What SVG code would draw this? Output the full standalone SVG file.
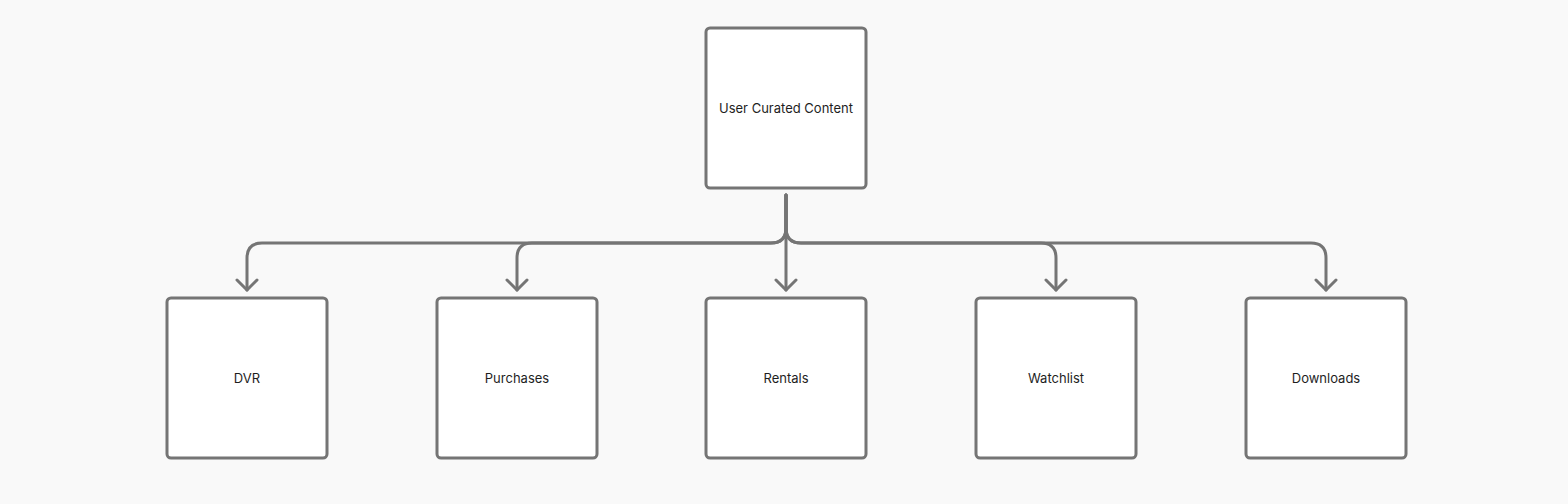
<svg xmlns="http://www.w3.org/2000/svg" width="1568" height="504" viewBox="0 0 1568 504">
<style>
.n{fill:#fff;stroke:#757575;stroke-width:3}
.t{font-family:Inter,"Liberation Sans",sans-serif;font-size:13px;fill:#1e1e1e;text-anchor:middle;dominant-baseline:central}
.c{fill:none;stroke:#757575;stroke-width:3;stroke-linecap:round;stroke-linejoin:round}
</style>
<defs><marker id="a" markerWidth="24" markerHeight="24" refX="12" refY="12" orient="auto" markerUnits="userSpaceOnUse"><path d="M2,2 L12,12 L2,22" fill="none" stroke="#757575" stroke-width="3" stroke-linecap="round" stroke-linejoin="round"/></marker></defs>
<rect width="1568" height="504" fill="#f9f9f9"/>
<g id="connectors">
<path class="c" marker-end="url(#a)" d="M786,195 V228 Q786,243 771,243 H262 Q247,243 247,258 V290"/>
<path class="c" marker-end="url(#a)" d="M786,195 V228 Q786,243 771,243 H532 Q517,243 517,258 V290"/>
<path class="c" marker-end="url(#a)" d="M786,195 V290"/>
<path class="c" marker-end="url(#a)" d="M786,195 V228 Q786,243 801,243 H1041 Q1056,243 1056,258 V290"/>
<path class="c" marker-end="url(#a)" d="M786,195 V228 Q786,243 801,243 H1311 Q1326,243 1326,258 V290"/>
</g>
<g id="root"><rect class="n" x="706" y="28" width="160" height="160" rx="4"/><text class="t" x="786" y="108">User Curated Content</text></g>
<g id="dvr"><rect class="n" x="167" y="298" width="160" height="160" rx="4"/><text class="t" x="247" y="378">DVR</text></g>
<g id="purchases"><rect class="n" x="437" y="298" width="160" height="160" rx="4"/><text class="t" x="517" y="378">Purchases</text></g>
<g id="rentals"><rect class="n" x="706" y="298" width="160" height="160" rx="4"/><text class="t" x="786" y="378">Rentals</text></g>
<g id="watchlist"><rect class="n" x="976" y="298" width="160" height="160" rx="4"/><text class="t" x="1056" y="378">Watchlist</text></g>
<g id="downloads"><rect class="n" x="1246" y="298" width="160" height="160" rx="4"/><text class="t" x="1326" y="378">Downloads</text></g>
</svg>
